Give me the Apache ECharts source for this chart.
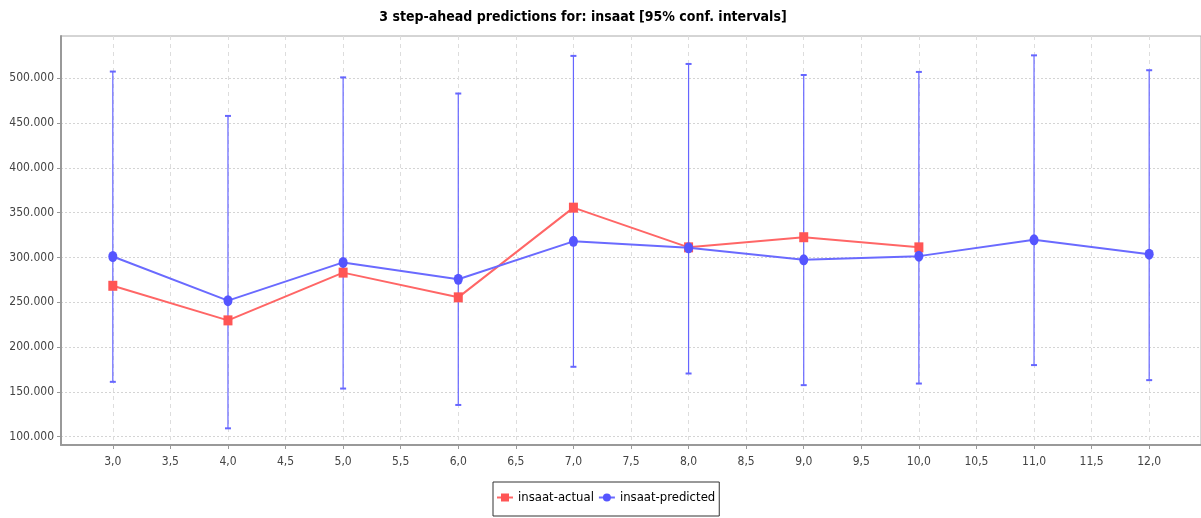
<!DOCTYPE html>
<html>
<head>
<meta charset="utf-8">
<script src="https://cdn.jsdelivr.net/npm/echarts@6/dist/echarts.min.js"></script>
<style>
html,body{margin:0;padding:0;background:#fff;}
#chart{width:1201px;height:518px;}
</style>
</head>
<body>
<div id="chart"></div>
<script>
const titleText = '3 step-ahead predictions for: insaat [95% conf. intervals]';
const xValues = [3, 4, 5, 6, 7, 8, 9, 10, 11, 12];
const actual = [268400, 229800, 283100, 255500, 355600, 311300, 322600, 311300, null, null];
const predicted = [301100, 251800, 294500, 275700, 318000, 310800, 297400, 301500, 319700, 303700];
const upper = [507500, 458000, 501000, 483000, 525000, 516000, 503700, 507100, 525600, 509000];
const lower = [161200, 109300, 153700, 135400, 178000, 170500, 157500, 159300, 179900, 163100];
const seriesNames = ['insaat-actual', 'insaat-predicted'];

const FONT = '"DejaVu Sans Condensed", "Liberation Sans Narrow", "Liberation Sans", sans-serif';

const actualData = xValues.map((x, i) => actual[i] == null ? null : [x, actual[i]]).filter(d => d);
const predData = xValues.map((x, i) => [x, predicted[i]]);
const errData = xValues.map((x, i) => [x, lower[i], upper[i]]);

const chart = echarts.init(document.getElementById('chart'), null, {renderer: 'canvas'});
chart.setOption({
  backgroundColor: '#ffffff',
  animation: false,
  title: {
    text: titleText,
    left: 578,
    top: 5,
    textAlign: 'center',
    textStyle: {fontFamily: FONT, fontWeight: 'bold', fontSize: 14, color: '#000'}
  },
  legend: {
    data: seriesNames,
    left: 493,
    top: 482,
    orient: 'horizontal',
    itemWidth: 16,
    itemHeight: 10,
    itemGap: 4,
    padding: [9, 4, 12, 3],
    borderColor: '#333',
    borderWidth: 1,
    textStyle: {fontFamily: FONT, fontSize: 13, color: '#000'}
  },
  grid: {
    left: 61, right: -3, top: 36, bottom: 73,
    show: true, borderColor: '#aaaaaa', borderWidth: 1, backgroundColor: '#ffffff'
  },
  xAxis: {
    type: 'value',
    min: 2.55, max: 12.45,
    splitNumber: 20,
    axisLine: {show: true, onZero: false, lineStyle: {color: '#999999', width: 2}},
    axisTick: {show: true, length: 4, lineStyle: {color: '#999999'}},
    axisLabel: {
      showMinLabel: false, showMaxLabel: false,
      margin: 11,
      fontFamily: FONT, fontSize: 12, color: '#444',
      formatter: v => v.toFixed(1).replace('.', ',')
    },
    splitLine: {show: true, lineStyle: {color: '#dddddd', type: [4, 4], width: 1}}
  },
  yAxis: {
    type: 'value',
    min: 90700, max: 547200,
    splitNumber: 9,
    axisLine: {show: true, onZero: false, lineStyle: {color: '#999999', width: 2}},
    axisTick: {show: true, length: 4, lineStyle: {color: '#999999'}},
    axisLabel: {
      showMinLabel: false, showMaxLabel: false,
      margin: 7,
      fontFamily: FONT, fontSize: 12, color: '#444',
      formatter: v => Math.round(v).toString().replace(/\B(?=(\d{3})+(?!\d))/g, '.')
    },
    splitLine: {show: true, lineStyle: {color: '#d4d4d4', type: [2, 2], width: 1}}
  },
  series: [
    {
      name: 'errorbars',
      type: 'custom',
      z: 1,
      data: errData,
      encode: {x: 0, y: [1, 2]},
      renderItem: function (params, api) {
        const x = api.value(0);
        const lo = api.coord([x, api.value(1)]);
        const hi = api.coord([x, api.value(2)]);
        const cap = 3;
        return {
          type: 'group',
          children: [
            {type: 'line', shape: {x1: lo[0], y1: lo[1], x2: hi[0], y2: hi[1]}, style: {stroke: '#6666ff', lineWidth: 1.2}},
            {type: 'line', shape: {x1: lo[0] - cap, y1: lo[1], x2: lo[0] + cap, y2: lo[1]}, style: {stroke: '#6666ff', lineWidth: 2}},
            {type: 'line', shape: {x1: hi[0] - cap, y1: hi[1], x2: hi[0] + cap, y2: hi[1]}, style: {stroke: '#6666ff', lineWidth: 2}}
          ]
        };
      }
    },
    {
      name: seriesNames[0],
      type: 'line',
      z: 3,
      data: actualData,
      symbol: 'rect',
      symbolSize: [9, 10],
      showAllSymbol: true,
      lineStyle: {color: '#ff6666', width: 2},
      itemStyle: {color: '#ff5555'}
    },
    {
      name: seriesNames[1],
      type: 'line',
      z: 4,
      data: predData,
      symbol: 'circle',
      symbolSize: [9, 11],
      showAllSymbol: true,
      lineStyle: {color: '#6a6aff', width: 2},
      itemStyle: {color: '#5555ff'}
    }
  ]
});
</script>
</body>
</html>
